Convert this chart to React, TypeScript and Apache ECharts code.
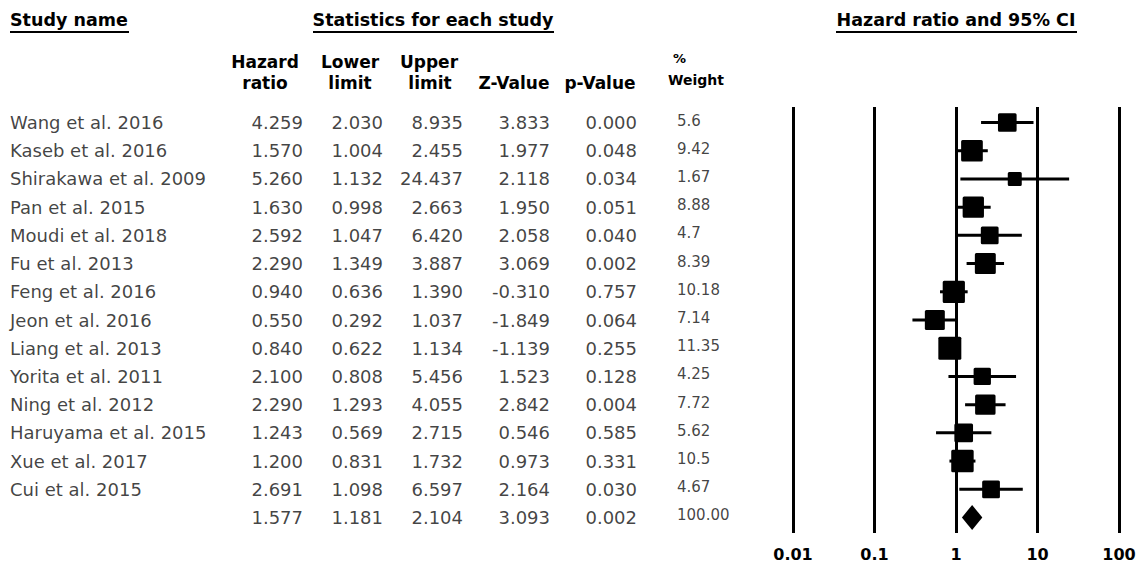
import React, { useEffect, useRef } from "react";
import * as echarts from "echarts";

const studies = [
  "Wang et al. 2016",
  "Kaseb et al. 2016",
  "Shirakawa et al. 2009",
  "Pan et al. 2015",
  "Moudi et al. 2018",
  "Fu et al. 2013",
  "Feng et al. 2016",
  "Jeon et al. 2016",
  "Liang et al. 2013",
  "Yorita et al. 2011",
  "Ning et al. 2012",
  "Haruyama et al. 2015",
  "Xue et al. 2017",
  "Cui et al. 2015",
];
const hazardRatio = [4.259, 1.57, 5.26, 1.63, 2.592, 2.29, 0.94, 0.55, 0.84, 2.1, 2.29, 1.243, 1.2, 2.691];
const lowerLimit = [2.03, 1.004, 1.132, 0.998, 1.047, 1.349, 0.636, 0.292, 0.622, 0.808, 1.293, 0.569, 0.831, 1.098];
const upperLimit = [8.935, 2.455, 24.437, 2.663, 6.42, 3.887, 1.39, 1.037, 1.134, 5.456, 4.055, 2.715, 1.732, 6.597];
const zValue = [3.833, 1.977, 2.118, 1.95, 2.058, 3.069, -0.31, -1.849, -1.139, 1.523, 2.842, 0.546, 0.973, 2.164];
const pValue = [0.0, 0.048, 0.034, 0.051, 0.04, 0.002, 0.757, 0.064, 0.255, 0.128, 0.004, 0.585, 0.331, 0.03];
const weight = ["5.6", "9.42", "1.67", "8.88", "4.7", "8.39", "10.18", "7.14", "11.35", "4.25", "7.72", "5.62", "10.5", "4.67"];

const summaryHR = 1.577;
const summaryLower = 1.181;
const summaryUpper = 2.104;
const summaryZ = 3.093;
const summaryP = 0.002;
const summaryWeight = "100.00";

const tickLabels = ["0.01", "0.1", "1", "10", "100"];

const FONT = "DejaVu Sans";

export default function App() {
  const ref = useRef<HTMLDivElement>(null);

  useEffect(() => {
    if (!ref.current) return;
    const chart = echarts.init(ref.current, null, { renderer: "svg" });
    const n = studies.length;
    const summaryRow = n;

    const f3 = (v: number) => v.toFixed(3);

    const textSeries = (
      colX: number,
      values: string[],
      side: "left" | "right",
      fontSize: number,
      offsetY = 0
    ) => ({
      type: "scatter",
      xAxisIndex: 1,
      yAxisIndex: 1,
      symbolSize: 0,
      silent: true,
      data: values.map((t, i) => [colX, i, t]),
      label: {
        show: true,
        position: side,
        distance: 0,
        offset: [0, offsetY],
        formatter: (p: any) => p.value[2],
        fontFamily: FONT,
        fontSize,
        color: "#111",
      },
    });

    const hrCol = [...hazardRatio.map(f3), f3(summaryHR)];
    const loCol = [...lowerLimit.map(f3), f3(summaryLower)];
    const upCol = [...upperLimit.map(f3), f3(summaryUpper)];
    const zCol = [...zValue.map(f3), f3(summaryZ)];
    const pCol = [...pValue.map(f3), f3(summaryP)];
    const wCol = [...weight, summaryWeight];

    const studyData = studies.map((_, i) => [
      hazardRatio[i],
      lowerLimit[i],
      upperLimit[i],
      i,
      parseFloat(weight[i]),
    ]);

    const headerBold = (text: string, x: number, y: number, align: string, size = 17) => ({
      type: "text",
      x,
      y,
      style: {
        text,
        fontFamily: FONT,
        fontWeight: "bold",
        fontSize: size,
        fill: "#000",
        align,
        verticalAlign: "middle",
      },
    });
    const underline = (x1: number, x2: number, y: number) => ({
      type: "line",
      shape: { x1, y1: y, x2, y2: y },
      style: { stroke: "#000", lineWidth: 2 },
    });

    chart.setOption({
      animation: false,
      backgroundColor: "#fff",
      grid: [
        { left: 793, width: 326, top: 107, height: 426 },
        { left: 0, width: 1143, top: 107, height: 426 },
      ],
      xAxis: [
        {
          gridIndex: 0,
          type: "log",
          logBase: 10,
          min: 0.01,
          max: 100,
          axisLine: { show: false },
          axisTick: { show: false },
          splitLine: { show: true, lineStyle: { color: "#000", width: 3 } },
          axisLabel: {
            margin: 13,
            fontFamily: FONT,
            fontWeight: "bold",
            fontSize: 16,
            color: "#000",
            formatter: (v: number) => tickLabels[Math.round(Math.log10(v)) + 2],
          },
        },
        { gridIndex: 1, type: "value", min: 0, max: 1143, show: false },
      ],
      yAxis: [
        { gridIndex: 0, type: "value", inverse: true, min: -0.55, max: 14.55, show: false },
        { gridIndex: 1, type: "value", inverse: true, min: -0.55, max: 14.55, show: false },
      ],
      series: [
        {
          type: "custom",
          xAxisIndex: 0,
          yAxisIndex: 0,
          silent: true,
          clip: false,
          data: studyData,
          encode: { x: [0, 1, 2], y: 3 },
          renderItem: (_params: any, api: any) => {
            const row = api.value(3);
            const c = api.coord([api.value(0), row]);
            const l = api.coord([api.value(1), row]);
            const u = api.coord([api.value(2), row]);
            const s = 8.4 + 4.33 * Math.sqrt(api.value(4));
            return {
              type: "group",
              children: [
                {
                  type: "line",
                  shape: { x1: l[0], y1: l[1], x2: u[0], y2: u[1] },
                  style: { stroke: "#000", lineWidth: 3 },
                },
                {
                  type: "rect",
                  shape: { x: c[0] - s / 2, y: c[1] - s / 2, width: s, height: s, r: 1.5 },
                  style: { fill: "#000" },
                },
              ],
            };
          },
        },
        {
          type: "custom",
          xAxisIndex: 0,
          yAxisIndex: 0,
          silent: true,
          clip: false,
          data: [[summaryHR, summaryLower, summaryUpper, summaryRow]],
          encode: { x: [0, 1, 2], y: 3 },
          renderItem: (_params: any, api: any) => {
            const row = api.value(3);
            const c = api.coord([api.value(0), row]);
            const l = api.coord([api.value(1), row]);
            const u = api.coord([api.value(2), row]);
            const h = 12.5;
            return {
              type: "polygon",
              shape: {
                points: [
                  [l[0], c[1]],
                  [c[0], c[1] - h],
                  [u[0], c[1]],
                  [c[0], c[1] + h],
                ],
              },
              style: { fill: "#000" },
            };
          },
        },
        textSeries(10, studies, "right", 18),
        textSeries(303, hrCol, "left", 18),
        textSeries(383, loCol, "left", 18),
        textSeries(463, upCol, "left", 18),
        textSeries(550, zCol, "left", 18),
        textSeries(637, pCol, "left", 18),
        textSeries(677, wCol, "right", 15, -2),
      ],
      graphic: [
        headerBold("Study name", 10, 20, "left", 17.5),
        underline(10, 129, 32),
        headerBold("Statistics for each study", 433, 20, "center", 17.5),
        underline(313, 554, 32),
        headerBold("Hazard ratio and 95% CI", 956, 20, "center", 17.5),
        underline(836, 1077, 32),
        headerBold("Hazard", 265, 62, "center"),
        headerBold("ratio", 265, 83, "center"),
        headerBold("Lower", 350, 62, "center"),
        headerBold("limit", 350, 83, "center"),
        headerBold("Upper", 429, 62, "center"),
        headerBold("limit", 430, 83, "center"),
        headerBold("Z-Value", 514, 83, "center"),
        headerBold("p-Value", 600, 83, "center"),
        headerBold("%", 673, 58, "left", 13),
        headerBold("Weight", 668, 80, "left", 14),
      ],
    });

    return () => chart.dispose();
  }, []);

  return (
    <div
      ref={ref}
      style={{ position: "absolute", left: 0, top: 0, width: 1143, height: 566 }}
    />
  );
}
